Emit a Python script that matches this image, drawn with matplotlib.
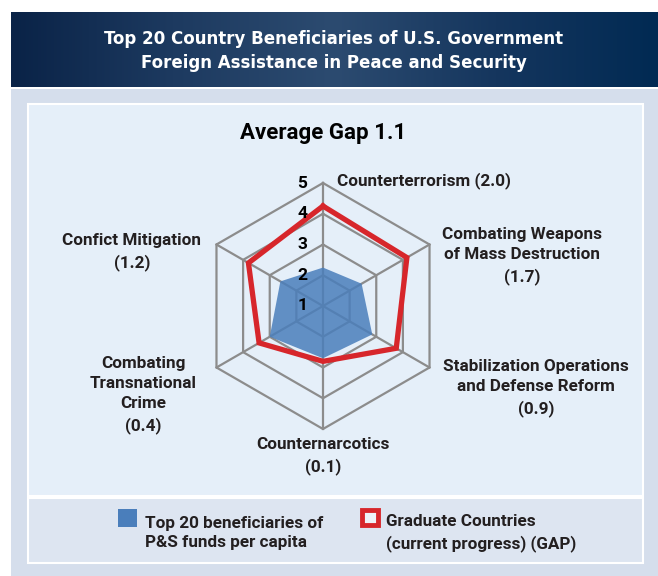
import numpy as np
import matplotlib.pyplot as plt
from matplotlib.patches import Rectangle
from matplotlib.colors import LinearSegmentedColormap

# data
categories = ["Counterterrorism", "Combating Weapons\nof Mass Destruction",
              "Stabilization Operations\nand Defense Reform", "Counternarcotics",
              "Combating\nTransnational\nCrime", "Confict Mitigation"]
gaps = [2.0, 1.7, 0.9, 0.1, 0.4, 1.2]
top20 = [2.25, 2.45, 2.85, 2.7, 3.0, 2.6]
graduate = [4.25, 4.15, 3.75, 2.8, 3.4, 3.8]
rings = [1, 2, 3, 4, 5]
avg_gap = 1.1

W, H = 658, 576
lab_font = ['Roboto', 'DejaVu Sans']
txt = '#231f20'
grid_c = '#8c8c8c'
blue = '#4a7ebb'
red = '#d7262b'

fig = plt.figure(figsize=(W / 100, H / 100), dpi=100)
fig.patch.set_facecolor('white')

# background in pixel coordinates
bg = fig.add_axes([0, 0, 1, 1])
bg.axis('off')

cmap = LinearSegmentedColormap.from_list('hdr', ['#0a2347', '#1d3a60', '#2c4b70', '#15365e', '#012a53'])
grad = np.linspace(0, 1, 256).reshape(1, -1)
bg.imshow(grad, cmap=cmap, extent=[11, W, 87, 12], aspect='auto', zorder=1)
bg.add_patch(Rectangle((11, 89), W - 11, H - 89, facecolor='#d5deec', edgecolor='none', zorder=1))
bg.add_patch(Rectangle((28, 104), 615, 392, facecolor='#e5eff9', edgecolor='white', lw=1.5, zorder=2))
bg.add_patch(Rectangle((28, 498), 615, 65, facecolor='#dde5f1', edgecolor='white', lw=1.5, zorder=2))
bg.set_xlim(0, W)
bg.set_ylim(H, 0)

bg.text(334, 51, "Top 20 Country Beneficiaries of U.S. Government\nForeign Assistance in Peace and Security",
        ha='center', va='center', color='white', fontsize=13.3, fontweight='bold',
        family='DejaVu Sans', fontstretch='condensed', linespacing=1.45, zorder=3)
bg.text(323, 133, f"Average Gap {avg_gap}", ha='center', va='center', color='black',
        fontsize=16, fontweight='bold', family=lab_font, zorder=3)

# category labels
label_pos = [(337, 181, 'left'), (522, 256, 'center'), (536, 388, 'center'),
             (323, 456, 'center'), (143, 395, 'center'), (132, 252, 'center')]
for cat, gap, (x, y, ha) in zip(categories, gaps, label_pos):
    sep = ' ' if ha == 'left' else '\n'
    bg.text(x, y, f"{cat}{sep}({gap:.1f})", ha=ha, va='center', ma='center', color=txt,
            fontsize=12.3, fontweight='bold', family=lab_font, linespacing=1.45, zorder=3)

# legend
bg.add_patch(Rectangle((118, 509), 19, 18, facecolor=blue, edgecolor='none', zorder=3))
bg.add_patch(Rectangle((362, 510), 16, 15, facecolor='#eef2f8', edgecolor=red, lw=3.5, zorder=3))
bg.text(145, 533, "Top 20 beneficiaries of\nP&S funds per capita", ha='left', va='center',
        color=txt, fontsize=12.3, fontweight='bold', family=lab_font, linespacing=1.4, zorder=3)
bg.text(386, 533, "Graduate Countries\n(current progress) (GAP)", ha='left', va='center',
        color=txt, fontsize=12.3, fontweight='bold', family=lab_font, linespacing=1.4, zorder=3)

# radar
cx, cy, R = 323, 306, 123
ax = fig.add_axes([(cx - R) / W, (H - cy - R) / H, 2 * R / W, 2 * R / H], projection='polar')
ax.set_theta_offset(np.pi / 2)
ax.set_theta_direction(-1)
ax.set_ylim(rings[0], rings[-1])
ax.grid(False)
ax.set_xticks([])
ax.set_yticks([])
ax.spines['polar'].set_visible(False)
ax.patch.set_visible(False)

angles = np.arange(len(categories)) * 2 * np.pi / len(categories)
closed = np.append(angles, angles[0])

for r in rings[1:]:
    ax.plot(closed, [r] * len(closed), color=grid_c, lw=1.6, zorder=1, clip_on=False)
for a in angles:
    ax.plot([a, a], [rings[0], rings[-1]], color=grid_c, lw=1.6, zorder=1, clip_on=False)

ax.fill(closed, np.append(top20, top20[0]), color=blue, alpha=0.85, lw=0, zorder=2)
ax.plot(closed, np.append(graduate, graduate[0]), color=red, lw=3.8, zorder=3,
        solid_joinstyle='miter', clip_on=False)

for r in rings:
    ax.annotate(str(r), xy=(0, r), xytext=(-15, 0), textcoords='offset points',
                ha='center', va='center', fontsize=12.5, fontweight='bold', color='black',
                family=lab_font, annotation_clip=False)

fig.savefig('out.png', dpi=100)
